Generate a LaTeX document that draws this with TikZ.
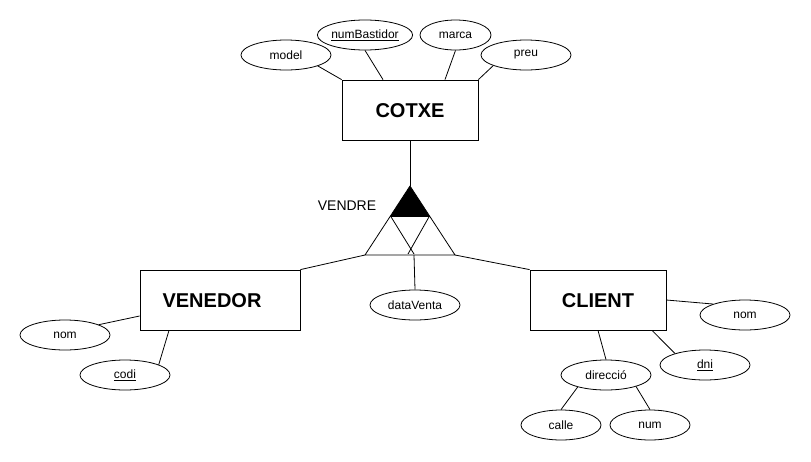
\documentclass[tikz,border=0pt]{standalone}
\usepackage{fontspec}
\setmainfont{Liberation Sans}
\usetikzlibrary{shapes.geometric}
\begin{document}
\begin{tikzpicture}[x=1pt,y=-1pt,line width=0.8pt,
  entity/.style={draw,rectangle,minimum width=#1,minimum height=60pt,inner sep=0pt},
  entity/.default=136pt,
  attr/.style={draw,ellipse,minimum width=90pt,minimum height=30pt,inner sep=0pt,font=\fontsize{12}{14}\selectfont},
  etext/.style={font=\fontsize{20}{24}\selectfont\bfseries}]
\useasboundingbox (0,0) rectangle (811,461);
% entities
\node[entity] (cotxe) at (410,110) {};
\node[etext] at (410,111) {COTXE};
\node[entity=160pt] (venedor) at (220,300) {};
\node[etext] at (212,301) {VENEDOR};
\node[entity] (client) at (598,300) {};
\node[etext] at (598,301) {CLIENT};
% attributes
\node[attr] (model) at (286,55) {model};
\node[attr] (numb) at (365,35) {\underline{numBastidor}};
\node[attr,minimum width=71pt] (marca) at (455.5,35) {marca};
\node[attr] (preu) at (526,55) {preu};
\node[attr] (dataventa) at (415,305) {dataVenta};
\node[attr] (noml) at (65,335) {nom};
\node[attr] (codi) at (125,375) {\underline{codi}};
\node[attr] (nomr) at (745,315) {nom};
\node[attr] (dni) at (705,365) {\underline{dni}};
\node[attr] (direccio) at (606,375) {direcció};
\node[attr,minimum width=80pt] (calle) at (561,425) {calle};
\node[attr,minimum width=80pt] (num) at (650,425) {num};
% relationship VENDRE
\coordinate (vapex) at (410,186);
\coordinate (vl) at (365,255);
\coordinate (vr) at (455,255);
\coordinate (vbl) at (390.5,216);
\coordinate (vbr) at (429.5,216);
\coordinate (vmid) at (414,255);
\fill (vapex) -- (vbl) -- (vbr) -- cycle;
\draw[line join=round] (vapex) -- (vl) -- (vr) -- cycle;
\draw (vbl) -- (vbr);
\draw (vbl) -- (414,254);
\draw (vbr) -- (408,254);
\node[font=\fontsize{14}{16}\selectfont] (vendre) at (347,206) {VENDRE};
% connectors
\draw (cotxe.south) -- (vapex);
\draw (venedor.north east) -- (vl);
\draw (client.north west) -- (vr);
\draw (dataventa.north) -- (vmid);
\draw (model.-19) -- (cotxe.north west);
\draw (numb.south) -- ([xshift=-27pt]cotxe.north);
\draw (marca.south) -- ([xshift=35pt]cotxe.north);
\draw (preu.198) -- (cotxe.north east);
\draw (noml.17) -- ([yshift=-16pt]venedor.west);
\draw (codi.17) -- ([xshift=-51pt]venedor.south);
\draw (nomr.161) -- (client.east);
\draw (dni.159) -- ([xshift=54pt]client.south);
\draw (direccio.north) -- (client.south);
\draw (direccio.203) -- (calle.north);
\draw (direccio.339) -- (num.north);
\end{tikzpicture}
\end{document}
